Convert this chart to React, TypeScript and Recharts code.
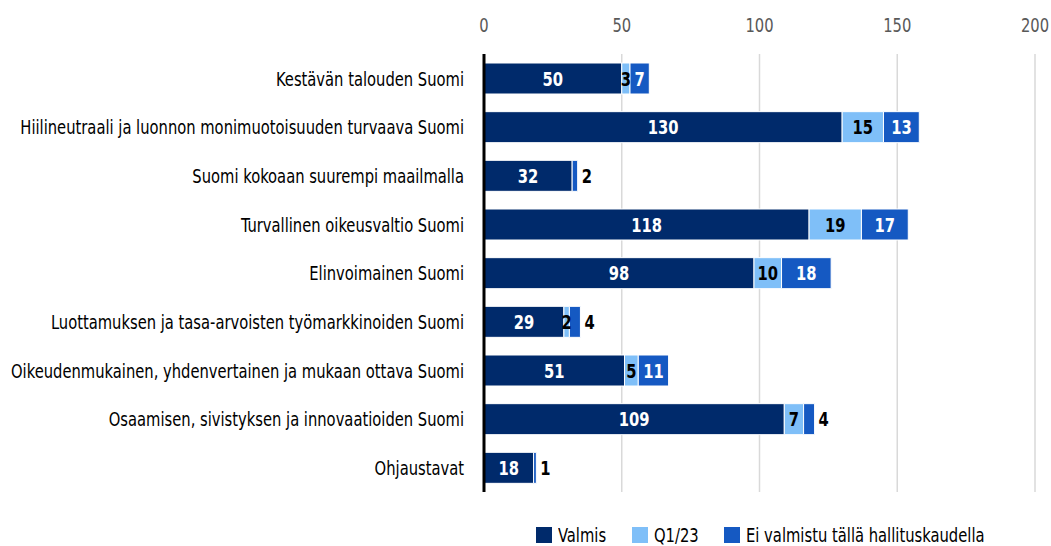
import React from "react";
import { BarChart, Bar, XAxis, YAxis, CartesianGrid, Legend, LabelList } from "recharts";

const categories = [
  "Kestävän talouden Suomi",
  "Hiilineutraali ja luonnon monimuotoisuuden turvaava Suomi",
  "Suomi kokoaan suurempi maailmalla",
  "Turvallinen oikeusvaltio Suomi",
  "Elinvoimainen Suomi",
  "Luottamuksen ja tasa-arvoisten työmarkkinoiden Suomi",
  "Oikeudenmukainen, yhdenvertainen ja mukaan ottava Suomi",
  "Osaamisen, sivistyksen ja innovaatioiden Suomi",
  "Ohjaustavat",
];
const valmis = [50, 130, 32, 118, 98, 29, 51, 109, 18];
const q123 = [3, 15, 0, 19, 10, 2, 5, 7, 0];
const eiValmistu = [7, 13, 2, 17, 18, 4, 11, 4, 1];
const xTicks = [0, 50, 100, 150, 200];

const seriesNames = ["Valmis", "Q1/23", "Ei valmistu tällä hallituskaudella"];
const colors = ["#002A6B", "#7FBFF8", "#1559C2"];

const data = categories.map((c, i) => ({
  name: c,
  valmis: valmis[i],
  q123: q123[i],
  ei: eiValmistu[i],
}));

const FONT = '"DejaVu Sans Condensed", "Liberation Sans Narrow", sans-serif';
const SX = 0.82;
const FS = 20;

const ScaledText = ({ x, y, anchor, fill, size, bold, children }: any) => (
  <text
    transform={`translate(${x},${y}) scale(${SX},1)`}
    x={0}
    y={0}
    dy="0.36em"
    textAnchor={anchor}
    fill={fill}
    fontFamily={FONT}
    fontWeight={bold ? "bold" : "normal"}
    fontSize={size}
  >
    {children}
  </text>
);

const YTick = (props: any) => {
  const { x, y, payload } = props;
  return (
    <ScaledText x={x} y={y} anchor="end" fill="#000" size={FS}>
      {payload.value}
    </ScaledText>
  );
};

const XTick = (props: any) => {
  const { x, payload } = props;
  return (
    <ScaledText x={x} y={25} anchor="middle" fill="#595959" size={FS}>
      {payload.value}
    </ScaledText>
  );
};

const makeLabel = (color: string, outsideBelow: number) => (props: any) => {
  const { x, y, width, height, value } = props;
  if (!value) return null;
  const outside = value <= outsideBelow;
  const tx = outside ? x + width + 4 : x + width / 2;
  return (
    <ScaledText
      x={tx}
      y={y + height / 2}
      anchor={outside ? "start" : "middle"}
      fill={outside ? "#000" : color}
      size={FS}
      bold
    >
      {value}
    </ScaledText>
  );
};

const legendSquares = [536, 632, 724];

const LegendContent = () => (
  <div style={{ position: "relative", height: 24, fontFamily: FONT, fontSize: FS, color: "#000" }}>
    {seriesNames.map((n, i) => (
      <div key={n} style={{ position: "absolute", left: legendSquares[i], top: 0, height: 24, display: "flex", alignItems: "center", whiteSpace: "nowrap" }}>
        <span style={{ display: "inline-block", width: 16, height: 16, background: colors[i], marginRight: 6 }} />
        <span style={{ display: "inline-block", transform: `scaleX(${SX})`, transformOrigin: "left center" }}>{n}</span>
      </div>
    ))}
  </div>
);

export default function App() {
  return (
    <div style={{ position: "absolute", left: 0, top: 0, width: 1051, height: 546, background: "#fff" }}>
      <BarChart
        width={1051}
        height={546}
        data={data}
        layout="vertical"
        margin={{ top: 0, right: 16, bottom: 30, left: 0 }}
        barSize={31}
      >
        <CartesianGrid horizontal={false} stroke="#d9d9d9" strokeWidth={1.5} />
        <XAxis
          type="number"
          orientation="top"
          domain={[0, 200]}
          ticks={xTicks}
          height={54}
          axisLine={false}
          tickLine={false}
          tickSize={0}
          tickMargin={20}
          tick={<XTick />}
        />
        <YAxis
          type="category"
          dataKey="name"
          width={484}
          axisLine={{ stroke: "#000", strokeWidth: 3 }}
          tickLine={false}
          tickSize={0}
          tickMargin={20}
          interval={0}
          tick={<YTick />}
        />
        <Legend
          content={<LegendContent />}
          verticalAlign="bottom"
          wrapperStyle={{ top: 523, left: 0, bottom: "auto", width: 1051, height: 24 }}
        />
        <Bar dataKey="valmis" name={seriesNames[0]} stackId="a" fill={colors[0]} stroke="#fff" strokeWidth={1} isAnimationActive={false}>
          <LabelList dataKey="valmis" content={makeLabel("#fff", 0)} />
        </Bar>
        <Bar dataKey="q123" name={seriesNames[1]} stackId="a" fill={colors[1]} stroke="#fff" strokeWidth={1} isAnimationActive={false}>
          <LabelList dataKey="q123" content={makeLabel("#000", 0)} />
        </Bar>
        <Bar dataKey="ei" name={seriesNames[2]} stackId="a" fill={colors[2]} stroke="#fff" strokeWidth={1} isAnimationActive={false}>
          <LabelList dataKey="ei" content={makeLabel("#fff", 4)} />
        </Bar>
      </BarChart>
    </div>
  );
}
